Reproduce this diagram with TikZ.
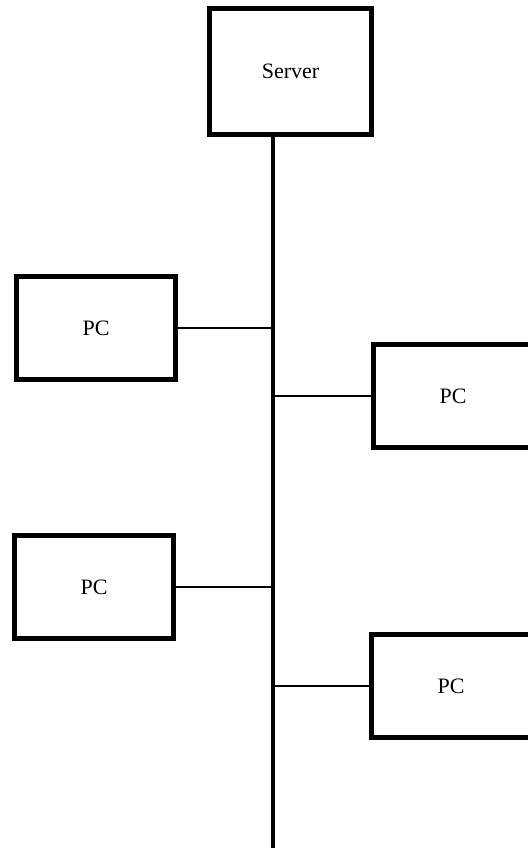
\documentclass[tikz,border=0pt]{standalone}
\usepackage{fontspec}
\setmainfont{Liberation Serif}
\usetikzlibrary{positioning,calc}

\begin{document}
\begin{tikzpicture}[
    x=0.5pt, y=-0.5pt,
    every node/.style={font=\fontsize{11}{13}\selectfont},
    box/.style={rectangle, draw, line width=2.6pt, align=center, inner sep=4pt},
    server/.style={box, minimum width=81pt, minimum height=63pt},
    pc/.style={box, minimum width=79.5pt, minimum height=51.5pt},
    bus/.style={line width=2.3pt},
    link/.style={line width=0.8pt},
]
% --- page frame -----------------------------------------------------
\useasboundingbox (0,0) rectangle (528,851);
\clip (0,0) rectangle (528,851);

% --- server on top --------------------------------------------------
\node[server] (srv) at (290.5, 71.5) {Server};

% --- PCs, alternating left and right of the bus ---------------------
\node[pc] (pc1) at ( 96, 328) {PC};
\node[pc] (pc2) at (453, 396) {PC};
\node[pc] (pc3) at ( 94, 587) {PC};
\node[pc] (pc4) at (451, 686) {PC};

% --- bus ------------------------------------------------------------
\coordinate (busend) at (273, 848);
\draw[bus] (srv.south -| busend) -- (busend);

% --- drops from the bus to each PC ----------------------------------
\draw[link] (pc1.east) -- (pc1.east -| busend);
\draw[link] (pc2.west) -- (pc2.west -| busend);
\draw[link] (pc3.east) -- (pc3.east -| busend);
\draw[link] (pc4.west) -- (pc4.west -| busend);
\end{tikzpicture}
\end{document}
